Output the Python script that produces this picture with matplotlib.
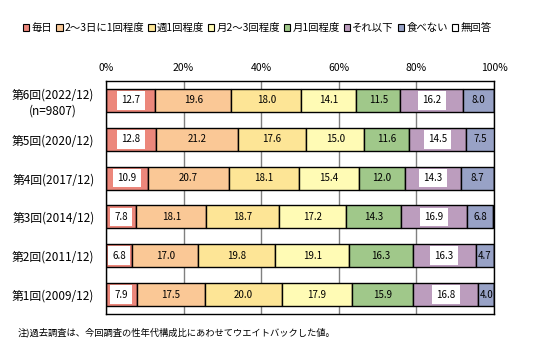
import matplotlib
matplotlib.use("Agg")
import matplotlib.pyplot as plt
import numpy as np

plt.rcParams['font.family'] = ['Noto Sans CJK JP', 'DejaVu Sans']

rounds = ["第6回(2022/12)\n(n=9807)", "第5回(2020/12)", "第4回(2017/12)",
          "第3回(2014/12)", "第2回(2011/12)", "第1回(2009/12)"]
categories = ["毎日", "2～3日に1回程度", "週1回程度", "月2～3回程度",
              "月1回程度", "それ以下", "食べない", "無回答"]
daily      = [12.7, 12.8, 10.9, 7.8, 6.8, 7.9]
every2_3   = [19.6, 21.2, 20.7, 18.1, 17.0, 17.5]
weekly     = [18.0, 17.6, 18.1, 18.7, 19.8, 20.0]
monthly2_3 = [14.1, 15.0, 15.4, 17.2, 19.1, 17.9]
monthly1   = [11.5, 11.6, 12.0, 14.3, 16.3, 15.9]
less       = [16.2, 14.5, 14.3, 16.9, 16.3, 16.8]
never      = [8.0, 7.5, 8.7, 6.8, 4.7, 4.0]
no_answer  = [0.0, 0.0, 0.0, 0.0, 0.0, 0.0]
x_ticks = [0, 20, 40, 60, 80, 100]
x_tick_labels = ["0%", "20%", "40%", "60%", "80%", "100%"]
note = "注)過去調査は、今回調査の性年代構成比にあわせてウエイトバックした値。"

series = [daily, every2_3, weekly, monthly2_3, monthly1, less, never, no_answer]
colors = ["#EC877B", "#FAC896", "#FDE596", "#FFFBB5", "#A0C88A", "#BC9DBE", "#98A2C6", "#FFFFFF"]
boxed = {0, 5}

fig = plt.figure(figsize=(5.6, 3.51), dpi=100)
ax = fig.add_axes([106/560, 1-314/351, (494-106)/560, (314-81)/351])

y = np.arange(len(rounds))
left = np.zeros(len(rounds))
for i, (vals, c) in enumerate(zip(series, colors)):
    vals = np.array(vals)
    ax.barh(y, vals, left=left, height=0.59, color=c, edgecolor="black",
            linewidth=1.0, zorder=3, label=categories[i])
    for j, v in enumerate(vals):
        if v <= 0:
            continue
        cx = left[j] + v / 2
        kw = {}
        if i in boxed:
            kw["bbox"] = dict(facecolor="white", edgecolor="none", boxstyle="square,pad=0.45")
        ax.text(cx, y[j], f"{v:.1f}", ha="center", va="center", fontsize=7,
                zorder=5, **kw)
    left += vals

ax.set_xlim(0, 100)
ax.set_ylim(len(rounds) - 0.5, -0.5)
ax.set_yticks(y)
ax.set_yticklabels(rounds, fontsize=8.5, ha="center", linespacing=1.25)
ax.tick_params(axis="y", length=0, pad=38)
ax.xaxis.tick_top()
ax.set_xticks(x_ticks)
ax.set_xticklabels(x_tick_labels, fontsize=7.5)
ax.tick_params(axis="x", length=0, pad=6)
ax.grid(axis="x", color="#808080", linewidth=1.0, zorder=0)
for s in ax.spines.values():
    s.set_color("black")
    s.set_linewidth(1.0)
    s.set_zorder(6)

handles, labels = ax.get_legend_handles_labels()
leg = fig.legend(handles, labels, loc="center left", bbox_to_anchor=(23/560, 1-28/351),
                 ncol=8, frameon=False, fontsize=7.5, handlelength=0.6, handleheight=0.6,
                 handletextpad=0.2, columnspacing=0.4, borderaxespad=0, borderpad=0)
for h in leg.legend_handles:
    h.set_linewidth(0.8)

fig.text(18/560, 1-332/351, note, fontsize=6.7, va="center", ha="left")

fig.savefig("out.png", dpi=100)
